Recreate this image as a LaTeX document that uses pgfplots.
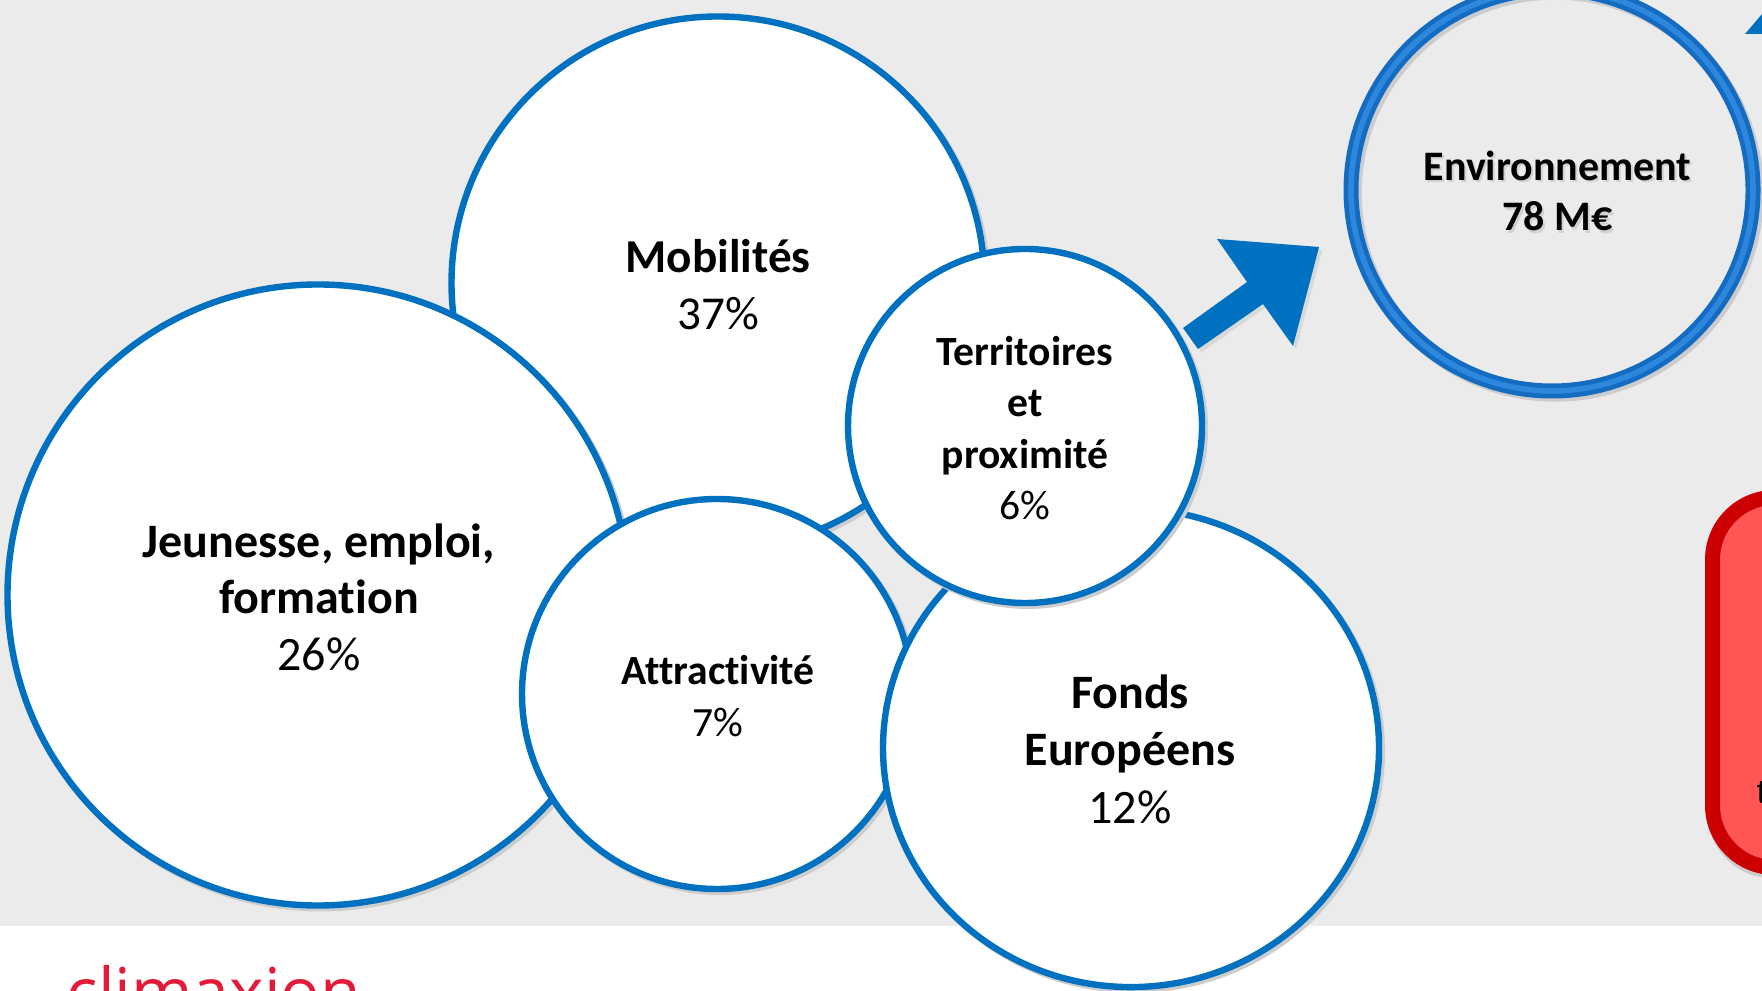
\documentclass[border=0pt]{standalone}
\usepackage{pgfplots}
\pgfplotsset{compat=1.18}
\usepackage{fontspec}
\setmainfont{Carlito}[Ligatures={NoCommon}]
\newfontfamily\calib{Carlito}[Ligatures={NoCommon}]
\newfontfamily\logofont{Open Sans}
\newfontfamily\arialfont{Liberation Sans}
\definecolor{cblue}{RGB}{0,112,192}
\definecolor{ringblue}{RGB}{20,108,194}
\definecolor{ringhi}{RGB}{45,135,220}
\definecolor{bggray}{RGB}{235,235,235}
\definecolor{shadowgray}{RGB}{205,205,205}
\definecolor{redfill}{RGB}{255,85,85}
\definecolor{redline}{RGB}{204,0,0}
\definecolor{logored}{RGB}{226,28,56}
\pgfplotsset{
  shad/.style={only marks, mark=*, mark size=#1,
    mark options={draw=shadowgray, fill=shadowgray, line width=1.6pt, xshift=0.7pt, yshift=-0.7pt}},
  bub/.style={only marks, mark=*, mark size=#1,
    mark options={draw=cblue, fill=white, line width=1.6pt}},
}
\begin{document}
\begin{tikzpicture}
\begin{axis}[
  width=440.5pt, height=247.75pt, scale only axis,
  xmin=0, xmax=1762, ymin=0, ymax=991, y dir=reverse,
  hide axis, clip=true,
  after end axis/.code={
    \node[align=center, text=black, font=\calib\fontsize{11.8}{14.3}\selectfont] at (axis cs:718,285) {\textbf{Mobilités}\\37\%};
    \node[align=center, text=black, font=\calib\fontsize{12}{14.1}\selectfont] at (axis cs:319,597) {\textbf{Jeunesse, emploi,}\\\textbf{formation}\\26\%};
    \node[align=center, text=black, font=\calib\fontsize{10.4}{12.8}\selectfont] at (axis cs:1025,428) {\textbf{Territoires}\\\textbf{et}\\\textbf{proximité}\\6\%};
    \node[align=center, text=black, font=\calib\fontsize{10.4}{12.9}\selectfont] at (axis cs:718,696) {\textbf{Attractivité}\\7\%};
    \node[align=center, text=black, font=\calib\fontsize{12}{14.4}\selectfont] at (axis cs:1130,749) {\textbf{Fonds}\\\textbf{Européens}\\12\%};
    \node[align=center, text=black!18, font=\calib\fontsize{10.5}{12.7}\selectfont\bfseries] at (axis cs:1559.5,193.5) {Environnement\\78 M€};
    \node[align=center, text=black, font=\calib\fontsize{10.5}{12.7}\selectfont\bfseries] at (axis cs:1557.5,191) {Environnement\\78 M€};
    \node[anchor=base west, text=black, font=\arialfont\fontsize{8.5}{10}\selectfont, inner sep=0pt] at (axis cs:1756,803) {t};
    \node[anchor=base west, font=\logofont\fontsize{16.5}{18}\selectfont, text=logored, inner sep=0pt] at (axis cs:66,1015) {climaxion};
  },
]
% background
\addplot[fill=white, draw=none] coordinates {(0,0) (1762,0) (1762,991) (0,991)} -- cycle;
\addplot[fill=bggray, draw=none] coordinates {(0,0) (1762,0) (1762,926) (0,926)} -- cycle;

% arrow
\addplot[fill=black!15, draw=none, shift={(0.8pt,-0.8pt)}] coordinates {(1183,328) (1247,282) (1217,239) (1319,247) (1293,346) (1263,304) (1198,349)} -- cycle;
\addplot[fill=cblue, draw=none] coordinates {(1183,328) (1247,282) (1217,239) (1319,247) (1293,346) (1263,304) (1198,349)} -- cycle;
\addplot[fill=cblue, draw=none] coordinates {(1745,34) (1762,34) (1762,14)} -- cycle;

% red box
\addplot[fill=black!20, draw=none, rounded corners=16pt, shift={(0.8pt,-0.8pt)}] coordinates {(1705,680) (1705,875) (1850,875) (1850,490) (1705,490) (1705,680)};
\addplot[fill=redfill, draw=redline, line width=3.75pt, rounded corners=15.5pt] coordinates {(1712.5,680) (1712.5,867.5) (1850,867.5) (1850,497.5) (1712.5,497.5) (1712.5,680)};

% bubbles (x, y, radius in px)
\addplot[shad=266.5*0.25pt] coordinates {(718,283)};
\addplot[bub=266.5*0.25pt] coordinates {(718,283)};
\addplot[shad=310.5*0.25pt] coordinates {(318,595)};
\addplot[bub=310.5*0.25pt] coordinates {(318,595)};
\addplot[shad=195*0.25pt] coordinates {(717,694)};
\addplot[bub=195*0.25pt] coordinates {(717,694)};
\addplot[only marks, mark=*, mark size=248*0.25pt,
  mark options={draw=shadowgray, fill=shadowgray, line width=1.6pt, xshift=0.7pt, yshift=-0.7pt, yscale=0.964}] coordinates {(1131,748)};
\addplot[only marks, mark=*, mark size=248*0.25pt,
  mark options={draw=cblue, fill=white, line width=1.6pt, yscale=0.964}] coordinates {(1131,748)};
\addplot[shad=177*0.25pt] coordinates {(1025,426)};
\addplot[bub=177*0.25pt] coordinates {(1025,426)};

% Environnement ring
\addplot[only marks, mark=o, mark size=201*0.25pt,
  mark options={draw=black!20, line width=3.75pt, xshift=0.8pt, yshift=-0.8pt}] coordinates {(1552,190)};
\addplot[only marks, mark=o, mark size=201*0.25pt,
  mark options={draw=ringblue, line width=3.75pt}] coordinates {(1552,190)};
\addplot[only marks, mark=o, mark size=201*0.25pt,
  mark options={draw=ringhi, line width=1.4pt}] coordinates {(1552,190)};
\end{axis}
\pgfresetboundingbox
\useasboundingbox (0,0) rectangle (440.5pt,247.75pt);
\end{tikzpicture}
\end{document}
